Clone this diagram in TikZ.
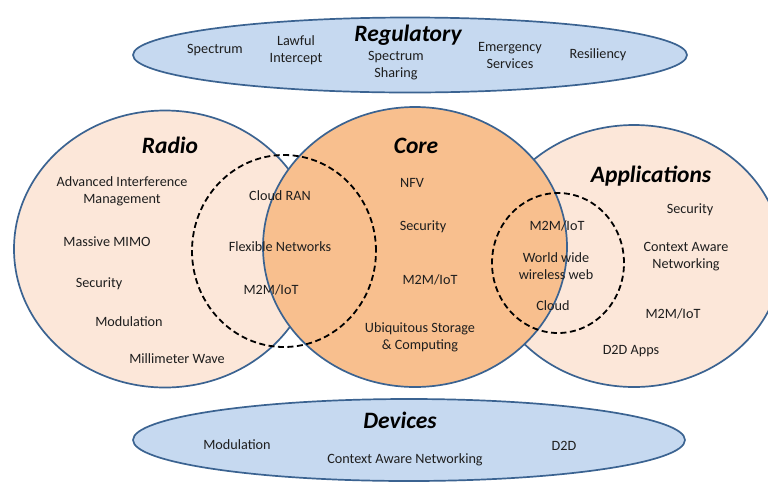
\documentclass[tikz,border=0pt]{standalone}
\usepackage{fontspec}
\setmainfont{Carlito}
\usetikzlibrary{shapes.geometric}
\definecolor{edge}{HTML}{3B6391}
\definecolor{bluefill}{HTML}{C6D9F0}
\definecolor{peach}{HTML}{FCE7D9}
\definecolor{coreor}{HTML}{F8BF8E}
\definecolor{ink}{HTML}{1E1E1E}
\tikzset{
  blob/.style={ellipse, draw=edge, line width=1.7pt, inner sep=0pt},
  dashring/.style={ellipse, draw=black, line width=1.8pt, dash pattern=on 6pt off 3.5pt, inner sep=0pt},
  item/.style={font=\fontsize{14.2}{17}\selectfont, align=center, inner sep=0pt, text=ink},
  ttl/.style={font=\fontsize{23.5}{25}\selectfont\bfseries\itshape, inner sep=0pt, text=black},
}
\begin{document}
\begin{tikzpicture}[x=1pt,y=-1pt]
\useasboundingbox (0,0) rectangle (768,483);
% big shapes
\node[blob, fill=bluefill, minimum width=554pt, minimum height=75pt] (reg) at (410,55) {};
\node[blob, fill=bluefill, minimum width=552pt, minimum height=82pt] (dev) at (409,440) {};
\node[blob, fill=peach, minimum width=302pt, minimum height=277pt] (radio) at (165,249) {};
\node[blob, fill=peach, minimum width=296pt, minimum height=262pt] (apps) at (634,256) {};
\node[blob, fill=coreor, minimum width=304pt, minimum height=280pt] (core) at (415,247) {};
\node[dashring, minimum width=184pt, minimum height=192pt] (ringL) at (284,251) {};
\node[dashring, minimum width=132pt, minimum height=140pt] (ringR) at (558,263) {};
% Regulatory
\node[ttl] (tReg) at (408,35) {Regulatory};
\node[item] (r1) at (215,50) {Spectrum};
\node[item] (r2) at (296,50) {Lawful\\Intercept};
\node[item] (r3) at (396,66) {Spectrum\\Sharing};
\node[item] (r4) at (510,55) {Emergency\\Services};
\node[item] (r5) at (598,55) {Resiliency};
% Radio
\node[ttl] (tRadio) at (170,145) {Radio};
\node[item] (a1) at (122,191) {Advanced Interference\\Management};
\node[item] (a2) at (107,242) {Massive MIMO};
\node[item] (a3) at (99,284) {Security};
\node[item] (a4) at (129,322) {Modulation};
\node[item] (a5) at (177,359) {Millimeter Wave};
\node[item] (b1) at (280,196) {Cloud RAN};
\node[item] (b2) at (280,247) {Flexible Networks};
\node[item] (b3) at (271,290) {M2M/IoT};
% Core
\node[ttl] (tCore) at (416,146) {Core};
\node[item] (c1) at (412,183) {NFV};
\node[item] (c2) at (423,227) {Security};
\node[item] (c3) at (430,280) {M2M/IoT};
\node[item] (c4) at (420,337) {Ubiquitous Storage\\\& Computing};
% Applications
\node[ttl] (tApps) at (651,176) {Applications};
\node[item] (d1) at (557,226) {M2M/IoT};
\node[item] (d2) at (556,266) {World wide\\wireless web};
\node[item] (d3) at (553,306) {Cloud};
\node[item] (e1) at (690,210) {Security};
\node[item] (e2) at (686,257) {Context Aware\\Networking};
\node[item] (e3) at (673,314) {M2M/IoT};
\node[item] (e4) at (631,351) {D2D Apps};
% Devices
\node[ttl] (tDev) at (400,420) {Devices};
\node[item] (f1) at (237,445) {Modulation};
\node[item] (f2) at (405,460) {Context Aware Networking};
\node[item] (f3) at (564,446) {D2D};
\end{tikzpicture}
\end{document}
